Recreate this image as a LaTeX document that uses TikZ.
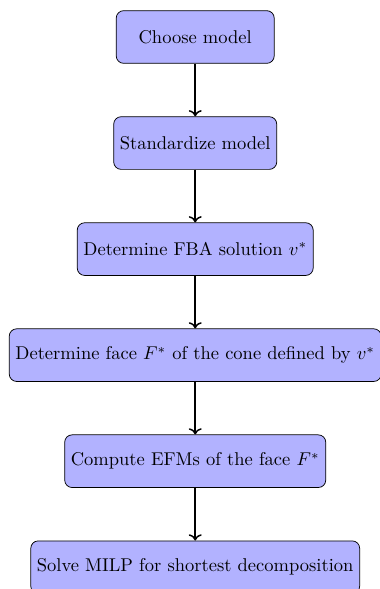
\documentclass[tikz,border=0pt]{standalone}
\usetikzlibrary{positioning,arrows.meta}
\tikzset{
  process/.style={rectangle, rounded corners, minimum width=3cm, minimum height=1cm,
    text centered, draw=black, fill=blue!30},
  flow/.style={thick,->}
}
\begin{document}
\begin{tikzpicture}[node distance=1cm]
\useasboundingbox (-105.5pt,20pt) rectangle (99.5pt,-298.3pt);
\node (choose) [process] {Choose model};
\node (std) [process, below=of choose] {Standardize model};
\node (fba) [process, below=of std] {Determine FBA solution $v^*$};
\node (face) [process, below=of fba] {Determine face $F^*$ of the cone defined by $v^*$};
\node (efm) [process, below=of face] {Compute EFMs of the face $F^*$};
\node (milp) [process, below=of efm] {Solve MILP for shortest decomposition};
\draw [flow] (choose) -- (std);
\draw [flow] (std) -- (fba);
\draw [flow] (fba) -- (face);
\draw [flow] (face) -- (efm);
\draw [flow] (efm) -- (milp);
\end{tikzpicture}
\end{document}
